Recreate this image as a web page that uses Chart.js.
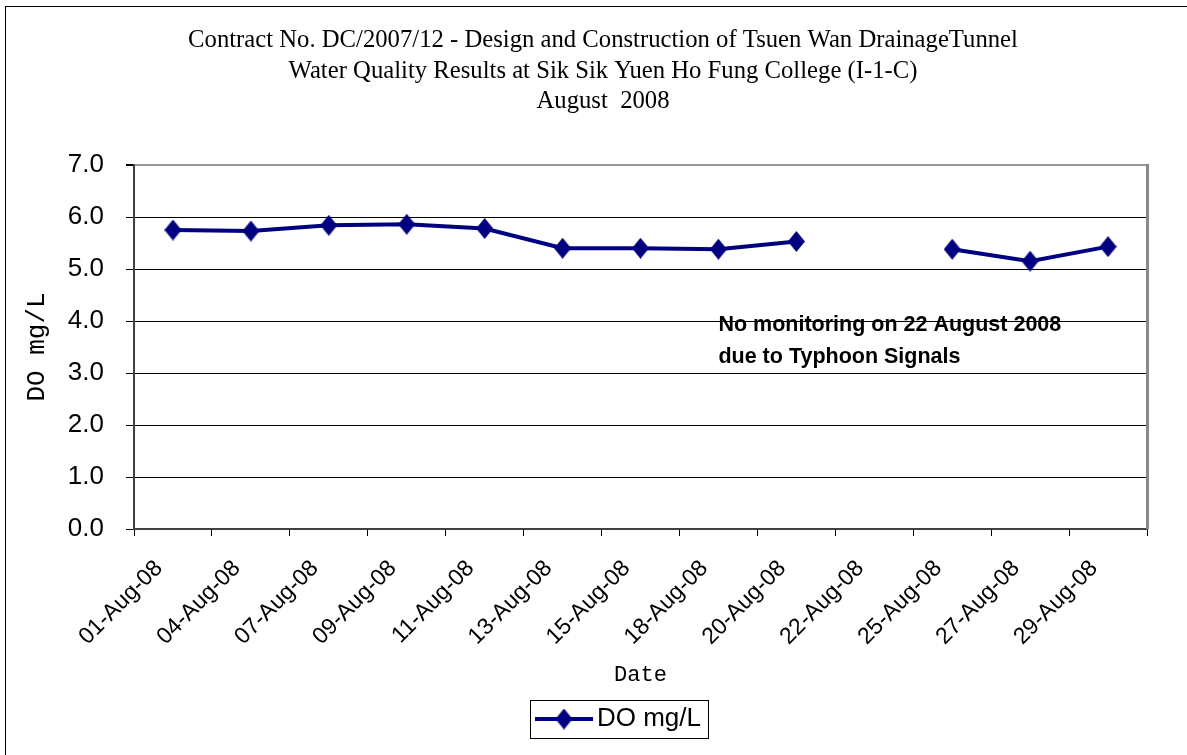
<!DOCTYPE html>
<html>
<head>
<meta charset="utf-8">
<script src="https://cdn.jsdelivr.net/npm/chart.js@4/dist/chart.umd.min.js"></script>
<style>
  body { margin: 0; background: #fff; }
  #wrap { width: 1187px; height: 755px; position: relative; }
</style>
</head>
<body>
<div id="wrap"><canvas id="doChart"></canvas></div>
<script>
// Chart data
const dates = ['01-Aug-08', '04-Aug-08', '07-Aug-08', '09-Aug-08', '11-Aug-08', '13-Aug-08', '15-Aug-08',
               '18-Aug-08', '20-Aug-08', '22-Aug-08', '25-Aug-08', '27-Aug-08', '29-Aug-08'];
const doValues = [5.75, 5.73, 5.84, 5.86, 5.78, 5.40, 5.40, 5.38, 5.53, null, 5.38, 5.15, 5.43];
const yTickLabels = ['0.0', '1.0', '2.0', '3.0', '4.0', '5.0', '6.0', '7.0'];
const titleLines = [
    'Contract No. DC/2007/12 - Design and Construction of Tsuen Wan DrainageTunnel',
    'Water Quality Results at Sik Sik Yuen Ho Fung College (I-1-C)',
    'August  2008'
];
const noteLines = ['No monitoring on 22 August 2008', 'due to Typhoon Signals'];

const navy = '#000080';

// Tall diamond marker used for the points
function makeDiamond(w, h) {
    const c = document.createElement('canvas');
    c.width = w; c.height = h;
    const g = c.getContext('2d');
    g.fillStyle = navy;
    g.beginPath();
    g.moveTo(w / 2, 0);
    g.lineTo(w, h / 2);
    g.lineTo(w / 2, h);
    g.lineTo(0, h / 2);
    g.closePath();
    g.fill();
    return c;
}

// Line + diamond sample for the legend (blank on the left so the sample sits next to the text)
function makeLegendSample() {
    const c = document.createElement('canvas');
    c.width = 156; c.height = 22;
    const g = c.getContext('2d');
    g.strokeStyle = navy;
    g.lineWidth = 4;
    g.beginPath();
    g.moveTo(98, 11);
    g.lineTo(156, 11);
    g.stroke();
    g.drawImage(makeDiamond(17, 21), 118.5, 0.5);
    return c;
}

const pointImg = makeDiamond(17, 21);
const legendImg = makeLegendSample();

// Background, frame, title text, note text, plot border, legend box
const decorPlugin = {
    id: 'decor',
    beforeDraw(chart) {
        const ctx = chart.ctx;
        ctx.save();
        ctx.fillStyle = '#fff';
        ctx.fillRect(0, 0, chart.width, chart.height);
        ctx.strokeStyle = '#000';
        ctx.lineWidth = 1;
        ctx.strokeRect(5.5, 6.5, chart.width + 20, chart.height + 20);
        ctx.restore();
    },
    afterDraw(chart) {
        const ctx = chart.ctx;
        const area = chart.chartArea;
        const x = chart.scales.x;
        const y = chart.scales.y;
        ctx.save();

        // right border of the plot area
        ctx.strokeStyle = '#888';
        ctx.lineWidth = 3;
        ctx.beginPath();
        ctx.moveTo(area.right + 0.5, area.top - 1);
        ctx.lineTo(area.right + 0.5, area.bottom);
        ctx.stroke();

        // title
        ctx.fillStyle = '#000';
        ctx.font = '24.7px "Liberation Serif", "Times New Roman", serif';
        ctx.textAlign = 'center';
        ctx.textBaseline = 'middle';
        titleLines.forEach((t, i) => ctx.fillText(t, 603, 41 + i * 30.5));

        // note about the missing day
        ctx.font = 'bold 21.5px "Liberation Sans", Arial, sans-serif';
        ctx.textAlign = 'left';
        const nx = x.getPixelForValue(7);
        ctx.fillText(noteLines[0], nx, y.getPixelForValue(3.92));
        ctx.fillText(noteLines[1], nx, y.getPixelForValue(3.31));

        // legend border
        ctx.strokeStyle = '#000';
        ctx.lineWidth = 1;
        ctx.strokeRect(530.5, 700.5, 178, 38);
        ctx.restore();
    }
};

const ctx = document.getElementById('doChart').getContext('2d');
window.doChart = new Chart(ctx, {
    type: 'line',
    data: {
        labels: dates,
        datasets: [{
            label: 'DO mg/L',
            data: doValues,
            borderColor: navy,
            backgroundColor: navy,
            borderWidth: 4,
            pointStyle: pointImg,
            pointRadius: 9,
            spanGaps: false,
            tension: 0
        }]
    },
    options: {
        responsive: true,
        maintainAspectRatio: false,
        animation: false,
        layout: {
            padding: { top: 165, right: 40, bottom: 13, left: 0 }
        },
        plugins: {
            title: { display: false },
            tooltip: { enabled: false },
            legend: {
                position: 'bottom',
                labels: {
                    usePointStyle: true,
                    pointStyleWidth: 138,
                    padding: 10,
                    color: '#000',
                    font: { family: '"Liberation Sans", Arial, sans-serif', size: 26 },
                    generateLabels: function(chart) {
                        return chart.data.datasets.map((ds, i) => ({
                            text: ds.label,
                            pointStyle: legendImg,
                            fillStyle: navy,
                            strokeStyle: navy,
                            lineWidth: 0,
                            fontColor: '#000',
                            datasetIndex: i
                        }));
                    }
                }
            }
        },
        scales: {
            x: {
                offset: true,
                afterFit: function(scale) { scale.height = 167; },
                grid: {
                    offset: true,
                    drawOnChartArea: false,
                    tickLength: 7,
                    tickColor: '#000'
                },
                border: { color: '#404040', width: 2 },
                ticks: {
                    color: '#000',
                    maxRotation: 45,
                    minRotation: 45,
                    padding: 19,
                    labelOffset: -14,
                    font: { family: '"Liberation Sans", Arial, sans-serif', size: 23 }
                },
                title: {
                    display: true,
                    text: 'Date',
                    color: '#000',
                    padding: { top: 0, bottom: 8 },
                    font: { family: '"Liberation Mono", "DejaVu Sans Mono", monospace', size: 22 }
                }
            },
            y: {
                min: 0,
                max: 7,
                afterFit: function(scale) { scale.width = 134; },
                grid: {
                    color: c => (c.tick && c.tick.value === 7 ? '#999' : '#000'),
                    lineWidth: c => (c.tick && c.tick.value === 7 ? 2 : 1),
                    tickLength: 8,
                    tickColor: '#000'
                },
                border: { color: '#404040', width: 2 },
                ticks: {
                    stepSize: 1,
                    color: '#000',
                    padding: 22,
                    font: { family: '"Liberation Sans", Arial, sans-serif', size: 26 },
                    callback: (v, i) => yTickLabels[i]
                },
                title: {
                    display: true,
                    text: 'DO mg/L',
                    color: '#000',
                    padding: { top: 22, bottom: 0 },
                    font: { family: '"Liberation Mono", "DejaVu Sans Mono", monospace', size: 26 }
                }
            }
        }
    },
    plugins: [decorPlugin]
});
</script>
</body>
</html>
